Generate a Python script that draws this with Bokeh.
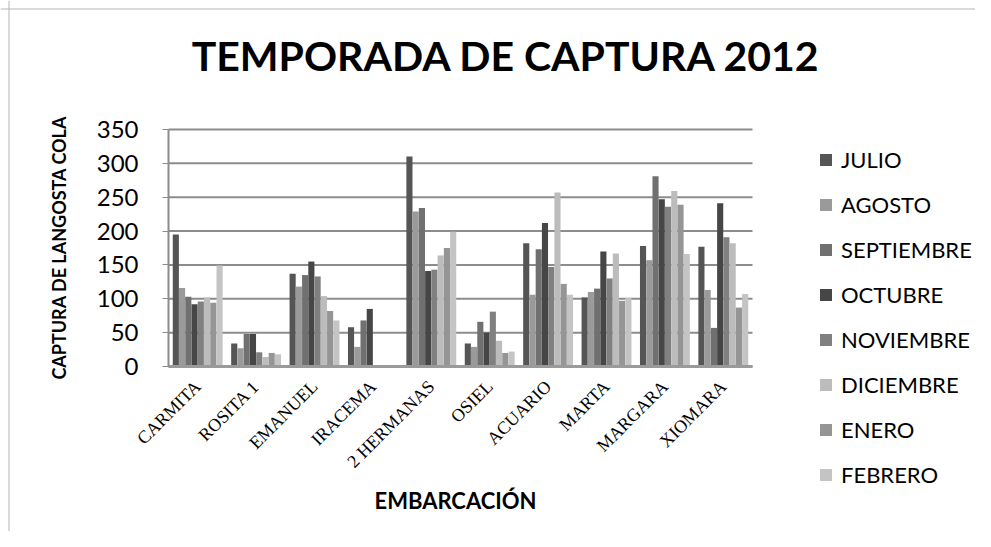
import math
from bokeh.plotting import figure
from bokeh.models import FixedTicker, Legend, LegendItem, Label, Range1d, Span
from bokeh.embed import file_html
from bokeh.resources import INLINE

embarcaciones = ["CARMITA", "ROSITA 1", "EMANUEL", "IRACEMA", "2 HERMANAS",
                 "OSIEL", "ACUARIO", "MARTA", "MARGARA", "XIOMARA"]
meses = ["JULIO", "AGOSTO", "SEPTIEMBRE", "OCTUBRE", "NOVIEMBRE",
         "DICIEMBRE", "ENERO", "FEBRERO"]

julio      = [195, 34, 137, 58, 310, 34, 182, 102, 178, 177]
agosto     = [116, 27, 118, 29, 229, 29, 106, 110, 157, 113]
septiembre = [103, 48, 135, 68, 234, 66, 173, 115, 281, 57]
octubre    = [92, 48, 155, 85, 141, 50, 212, 170, 247, 241]
noviembre  = [96, 21, 133, 0, 143, 81, 147, 130, 236, 191]
diciembre  = [102, 14, 104, 0, 164, 38, 257, 167, 259, 182]
enero      = [94, 20, 82, 0, 175, 20, 122, 97, 239, 87]
febrero    = [149, 18, 68, 0, 199, 22, 106, 101, 166, 107]

y_ticks = [0, 50, 100, 150, 200, 250, 300, 350]

series = [julio, agosto, septiembre, octubre, noviembre, diciembre, enero, febrero]
colors = ["#555555", "#9a9a9a", "#707070", "#464646", "#808080",
          "#bcbcbc", "#959595", "#c4c4c4"]

# canvas geometry (screen px): plot area x 168..752, y 129 (350) .. 366 (0)
W, H = 975, 531
PAGE = 0
ncat = len(embarcaciones)
sx = (752 - 168) / ncat          # px per category
sy = (366 - 129) / y_ticks[-1]   # px per unit
x0 = -(168 - PAGE) / sx
x1 = x0 + W / sx
y1 = (366 - PAGE) / sy
y0 = y1 - H / sy


def dx(page_x):
    return (page_x - 168) / sx


def dy(page_y):
    return (366 - page_y) / sy


p = figure(width=W, height=H, output_backend="svg", toolbar_location=None,
           x_range=Range1d(x0, x1), y_range=Range1d(y0, y1),
           min_border=0, min_border_left=0, min_border_right=0,
           min_border_top=0, min_border_bottom=0)
p.outline_line_color = None
p.background_fill_color = "white"
p.border_fill_color = "white"
p.xgrid.grid_line_color = None
p.ygrid.grid_line_color = None

# gridlines from the tick values
p.segment(x0=[0] * len(y_ticks), x1=[ncat] * len(y_ticks), y0=y_ticks,
          y1=y_ticks, line_color="#8c8c8c", line_width=2)

bw = 0.107
items = []
centers = [i + 0.5 for i in range(ncat)]
for k, (name, vals, col) in enumerate(zip(meses, series, colors)):
    xs = [c + (k - 3.5) * bw for c in centers]
    r = p.vbar(x=xs, top=vals, bottom=0, width=bw * 0.98, fill_color=col,
               line_color=None)
    items.append(LegendItem(label=name, renderers=[r]))

# y axis
yax = p.yaxis[0]
yax.fixed_location = 0
yax.bounds = (y_ticks[0], y_ticks[-1])
yax.ticker = FixedTicker(ticks=y_ticks)
yax.axis_line_color = "#8c8c8c"
yax.axis_line_width = 2
yax.major_tick_line_color = "#8c8c8c"
yax.major_tick_out = 6
yax.major_tick_in = 0
yax.minor_tick_line_color = None
yax.major_label_text_font = "Lato"
yax.major_label_text_font_size = "24px"
yax.major_label_text_color = "black"
yax.major_label_standoff = 24

# x axis
xax = p.xaxis[0]
xax.fixed_location = 0
xax.bounds = (0, ncat)
xax.ticker = FixedTicker(ticks=centers)
xax.major_label_overrides = {c: n for c, n in zip(centers, embarcaciones)}
xax.major_label_orientation = math.pi / 4
xax.major_label_text_font = "Liberation Serif"
xax.major_label_text_font_size = "18px"
xax.major_label_text_color = "black"
xax.major_label_standoff = 11
xax.axis_line_color = "#9a9a9a"
xax.axis_line_width = 3
xax.major_tick_line_color = None
xax.minor_tick_line_color = None

# outer chart border (left and top)
p.add_layout(Span(location=dx(8.5), dimension="height",
                  line_color="#b4b4b4", line_width=1))
p.add_layout(Span(location=dy(8.5), dimension="width",
                  line_color="#b4b4b4", line_width=1))

# titles
p.add_layout(Label(x=dx(506), y=dy(55),
                   text="TEMPORADA DE CAPTURA 2012", text_font="Lato",
                   text_font_style="bold", text_font_size="41px",
                   text_color="black",
                   text_align="center", text_baseline="alphabetic"))
p.add_layout(Label(x=dx(455), y=dy(500),
                   text="EMBARCACIÓN", text_font="Lato",
                   text_font_style="bold", text_font_size="22px",
                   text_color="black",
                   text_align="center", text_baseline="alphabetic"))
p.add_layout(Label(x=dx(58), y=dy(247),
                   text="CAPTURA DE LANGOSTA COLA", text_font="Lato",
                   text_font_style="bold", text_font_size="18px",
                   text_color="black",
                   angle=math.pi / 2, text_align="center",
                   text_baseline="middle"))

legend = Legend(items=items, location=(818 - PAGE, H - 488),
                orientation="vertical",
                padding=0, margin=0, spacing=18, label_height=20,
                glyph_height=15, glyph_width=15, label_standoff=8,
                label_text_font="Lato", label_text_font_size="22px",
                label_text_color="black",
                border_line_color=None, background_fill_alpha=0)
p.add_layout(legend, "center")

open("out.html", "w").write(file_html(p, INLINE))
